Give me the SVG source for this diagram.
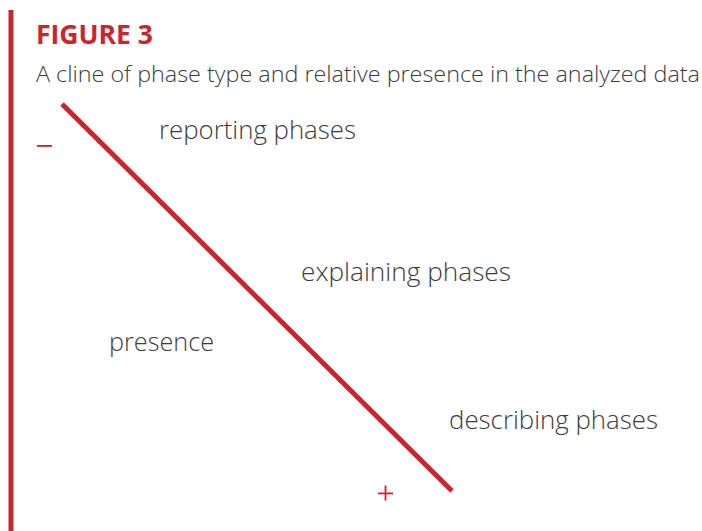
<svg xmlns="http://www.w3.org/2000/svg" width="702" height="531" viewBox="0 0 702 531">
<style>
.t{font-family:"Open Sans","Noto Sans",sans-serif;font-weight:300;fill:#3c3c3c;}
.lbl{font-size:25px;}
.red{stroke:#c8262f;}
</style>
<rect width="702" height="531" fill="#ffffff"/>
<rect x="8.5" y="10" width="5" height="521" fill="#c8262f"/>
<text x="36" y="44" style="font-family:'Open Sans','Noto Sans',sans-serif;font-weight:700;font-size:27px;fill:#c8262f" textLength="117" lengthAdjust="spacingAndGlyphs">FIGURE 3</text>
<text class="t" x="36" y="82" font-size="21.5" textLength="664" lengthAdjust="spacingAndGlyphs">A cline of phase type and relative presence in the analyzed data</text>
<g id="connectors">
<line x1="62" y1="104" x2="452" y2="491" class="red" stroke-width="5"/>
</g>
<g id="minus"><rect x="37" y="145" width="15" height="1.8" fill="#c8262f"/></g>
<g id="plus"><rect x="378" y="492.5" width="15" height="1.8" fill="#c8262f"/><rect x="384.6" y="485.5" width="1.8" height="15" fill="#c8262f"/></g>
<g id="reporting"><text class="t lbl" x="159" y="139" textLength="197" lengthAdjust="spacingAndGlyphs">reporting phases</text></g>
<g id="explaining"><text class="t lbl" x="301" y="281" textLength="210" lengthAdjust="spacingAndGlyphs">explaining phases</text></g>
<g id="presence"><text class="t lbl" x="109" y="351" textLength="105" lengthAdjust="spacingAndGlyphs">presence</text></g>
<g id="describing"><text class="t lbl" x="449" y="429" textLength="209" lengthAdjust="spacingAndGlyphs">describing phases</text></g>
</svg>
